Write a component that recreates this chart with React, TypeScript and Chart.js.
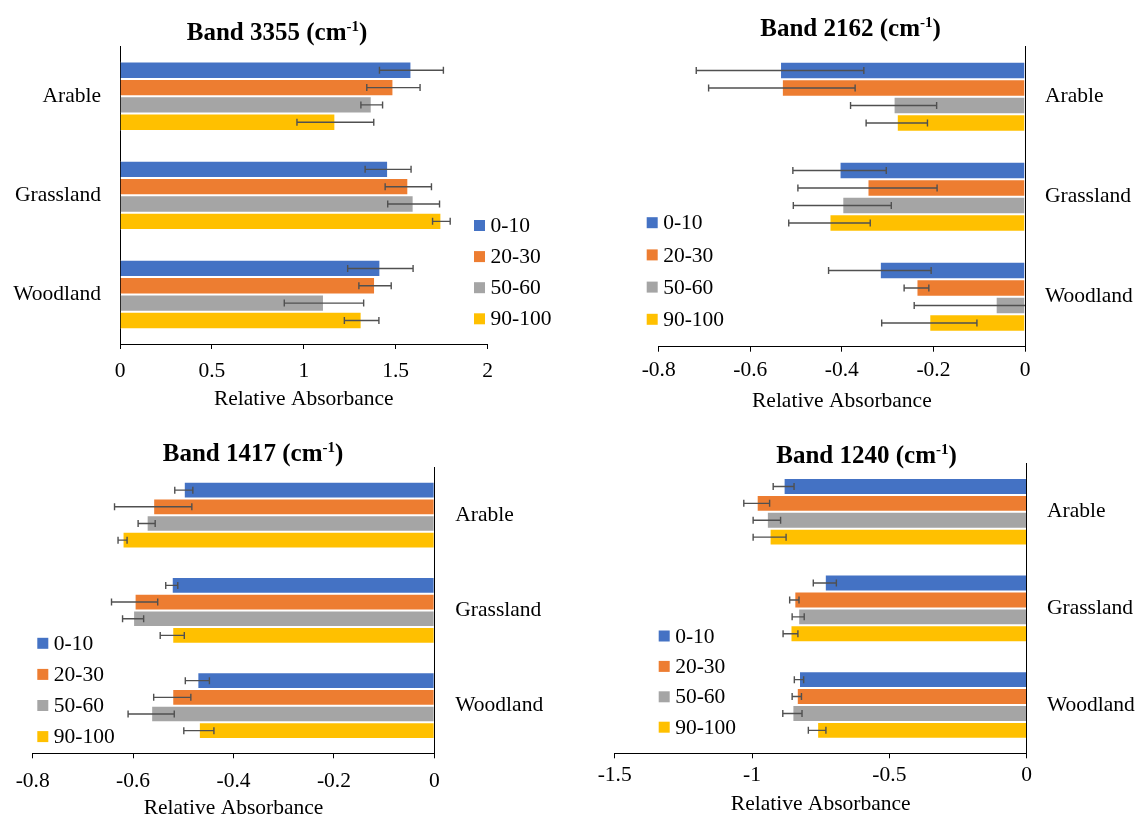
import React, { useEffect, useRef } from "react";
import { Chart, registerables } from "chart.js";

Chart.register(...registerables);

// ---------- data ----------
const categories = ["Arable", "Grassland", "Woodland"];
const depthLabels = ["0-10", "20-30", "50-60", "90-100"];
const depthColors = ["#4472C4", "#ED7D31", "#A5A5A5", "#FFC000"];

// rows = depth (0-10, 20-30, 50-60, 90-100); columns = Arable, Grassland, Woodland
const band3355Mean = [
  [1.586, 1.459, 1.417],
  [1.488, 1.569, 1.388],
  [1.37, 1.598, 1.11],
  [1.172, 1.749, 1.315],
];
const band3355Err = [
  [0.174, 0.125, 0.178],
  [0.145, 0.126, 0.088],
  [0.059, 0.141, 0.216],
  [0.209, 0.048, 0.094],
];

const band2162Mean = [
  [-0.535, -0.405, -0.317],
  [-0.531, -0.344, -0.237],
  [-0.287, -0.399, -0.064],
  [-0.28, -0.427, -0.209],
];
const band2162Err = [
  [0.183, 0.102, 0.112],
  [0.16, 0.152, 0.027],
  [0.094, 0.107, 0.178],
  [0.067, 0.089, 0.104],
];

const band1417Mean = [
  [-0.499, -0.523, -0.472],
  [-0.56, -0.597, -0.522],
  [-0.573, -0.6, -0.564],
  [-0.621, -0.522, -0.469],
];
const band1417Err = [
  [0.018, 0.012, 0.024],
  [0.077, 0.046, 0.037],
  [0.017, 0.021, 0.046],
  [0.009, 0.024, 0.03],
];

const band1240Mean = [
  [-0.885, -0.735, -0.829],
  [-0.983, -0.846, -0.837],
  [-0.946, -0.832, -0.853],
  [-0.936, -0.86, -0.763],
];
const band1240Err = [
  [0.038, 0.042, 0.017],
  [0.047, 0.017, 0.017],
  [0.05, 0.022, 0.035],
  [0.06, 0.027, 0.032],
];

// x-axis ranges: [min, max, step]
const band3355Axis = [0, 2, 0.5];
const band2162Axis = [-0.8, 0, 0.2];
const band1417Axis = [-0.8, 0, 0.2];
const band1240Axis = [-1.5, 0, 0.5];

const bandNames = ["Band 3355", "Band 2162", "Band 1417", "Band 1240"];
const axisTitle = "Relative Absorbance";

// ---------- layout / style ----------
const FONT = "'Liberation Serif', 'Times New Roman', serif";
const FS = 21.5;
Chart.defaults.font.family = FONT;

type PanelCfg = {
  name: string;
  mean: number[][];
  err: number[][];
  axis: number[];
  x: number; y: number; w: number; h: number;
  pad: { left: number; right: number; top: number; bottom: number };
  yPos: "left" | "right";
  yWidth: number;
  yPad: number;
  xHeight: number;
  tickPad: number;
  titlePb: number;
  titleCx: number;
  titleBase: number;
  legX: number;
  legY: number;
  legDy: number;
};

const panels: PanelCfg[] = [
  {
    name: bandNames[0], mean: band3355Mean, err: band3355Err, axis: band3355Axis,
    x: 0, y: 0, w: 570, h: 420,
    pad: { left: 0, right: 82.5, top: 46.7, bottom: 0 },
    yPos: "left", yWidth: 120, yPad: 19, xHeight: 76, tickPad: 9.4, titlePb: 7.4,
    titleCx: 277, titleBase: 39.5, legX: 474, legY: 225.5, legDy: 31.1,
  },
  {
    name: bandNames[1], mean: band2162Mean, err: band2162Err, axis: band2162Axis,
    x: 570, y: 0, w: 569, h: 420,
    pad: { left: 88.7, right: 0, top: 46.7, bottom: 0 },
    yPos: "right", yWidth: 114, yPad: 20, xHeight: 73.3, tickPad: 5.7, titlePb: 5.4,
    titleCx: 280.5, titleBase: 35.5, legX: 76.7, legY: 222.7, legDy: 32.2,
  },
  {
    name: bandNames[2], mean: band1417Mean, err: band1417Err, axis: band1417Axis,
    x: 0, y: 420, w: 570, h: 402,
    pad: { left: 32.7, right: 0, top: 47.5, bottom: 0 },
    yPos: "right", yWidth: 135.7, yPad: 21, xHeight: 68.7, tickPad: 10, titlePb: 1.1,
    titleCx: 253, titleBase: 41, legX: 37.3, legY: 223.3, legDy: 31.1,
  },
  {
    name: bandNames[3], mean: band1240Mean, err: band1240Err, axis: band1240Axis,
    x: 570, y: 420, w: 569, h: 402,
    pad: { left: 44.7, right: 0, top: 43.5, bottom: 0 },
    yPos: "right", yWidth: 112.3, yPad: 20.3, xHeight: 68.7, tickPad: 4.1, titlePb: 4.4,
    titleCx: 296.5, titleBase: 42.5, legX: 88.7, legY: 216, legDy: 30.4,
  },
];

// ---------- plugins ----------
const errorBarPlugin = {
  id: "errorBars",
  afterDatasetsDraw(chart: any) {
    const ctx = chart.ctx;
    const xs = chart.scales.x;
    const area = chart.chartArea;
    ctx.save();
    ctx.strokeStyle = "#505050";
    ctx.lineWidth = 1.4;
    chart.data.datasets.forEach((ds: any, i: number) => {
      const meta = chart.getDatasetMeta(i);
      meta.data.forEach((bar: any, j: number) => {
        const v = ds.data[j];
        const e = ds.errors[j];
        let x1 = xs.getPixelForValue(v - e);
        let x2 = xs.getPixelForValue(v + e);
        const y = bar.y;
        const c1 = x1 >= area.left;
        const c2 = x2 <= area.right;
        x1 = Math.max(area.left, x1);
        x2 = Math.min(area.right, x2);
        ctx.beginPath();
        ctx.moveTo(x1, y);
        ctx.lineTo(x2, y);
        if (c1) { ctx.moveTo(x1, y - 3.5); ctx.lineTo(x1, y + 3.5); }
        if (c2) { ctx.moveTo(x2, y - 3.5); ctx.lineTo(x2, y + 3.5); }
        ctx.stroke();
      });
    });
    ctx.restore();
  },
};

const legendPlugin = {
  id: "sideLegend",
  afterDraw(chart: any, _args: any, opts: any) {
    const ctx = chart.ctx;
    ctx.save();
    ctx.font = `${FS}px ${FONT}`;
    ctx.textBaseline = "middle";
    ctx.textAlign = "left";
    chart.data.datasets.forEach((ds: any, i: number) => {
      const cy = opts.y + i * opts.dy;
      ctx.fillStyle = ds.backgroundColor;
      ctx.fillRect(opts.x, cy - 5.5, 11, 11);
      ctx.fillStyle = "#000";
      ctx.fillText(ds.label, opts.x + 16.5, cy + 1);
    });
    ctx.restore();
  },
};

const titlePlugin = {
  id: "supTitle",
  afterDraw(chart: any, _args: any, opts: any) {
    const ctx = chart.ctx;
    ctx.save();
    ctx.fillStyle = "#000";
    ctx.textBaseline = "alphabetic";
    ctx.textAlign = "left";
    const main = `${opts.text} (cm`;
    const sup = "-1";
    const end = ")";
    const big = `bold 25px ${FONT}`;
    const small = `bold 15px ${FONT}`;
    ctx.font = big;
    const w1 = ctx.measureText(main).width;
    const w3 = ctx.measureText(end).width;
    ctx.font = small;
    const w2 = ctx.measureText(sup).width;
    let x = opts.cx - (w1 + w2 + w3) / 2;
    ctx.font = big;
    ctx.fillText(main, x, opts.base);
    x += w1;
    ctx.font = small;
    ctx.fillText(sup, x, opts.base - 9);
    x += w2;
    ctx.font = big;
    ctx.fillText(end, x, opts.base);
    ctx.restore();
  },
};

function makeChart(canvas: HTMLCanvasElement, p: PanelCfg) {
  const [min, max, step] = p.axis;
  return new Chart(canvas, {
    type: "bar",
    data: {
      labels: categories,
      datasets: depthLabels.map((d, i) => ({
        label: d,
        data: p.mean[i],
        errors: p.err[i],
        backgroundColor: depthColors[i],
        borderColor: "rgba(255,255,255,0.9)",
        borderWidth: 1,
        categoryPercentage: 0.7,
        barPercentage: 1,
      })) as any,
    },
    options: {
      indexAxis: "y",
      animation: false,
      responsive: false,
      maintainAspectRatio: false,
      layout: { padding: p.pad },
      plugins: {
        legend: { display: false },
        tooltip: { enabled: false },
        title: { display: false },
        errorBars: {},
        sideLegend: { x: p.legX, y: p.legY, dy: p.legDy },
        supTitle: { text: p.name, cx: p.titleCx, base: p.titleBase },
      } as any,
      scales: {
        x: {
          type: "linear",
          min,
          max,
          ticks: {
            stepSize: step,
            color: "#000",
            font: { size: FS, family: FONT },
            padding: p.tickPad,
            maxRotation: 0,
            callback: (v: any) => String(Number(Number(v).toFixed(2))),
          },
          grid: {
            display: true,
            drawOnChartArea: false,
            drawTicks: true,
            tickLength: 5,
            color: "#000",
            lineWidth: 1,
          },
          border: { display: true, color: "#000", width: 1 },
          title: {
            display: true,
            text: axisTitle,
            color: "#000",
            font: { size: FS, family: FONT },
            padding: { top: 0, bottom: p.titlePb },
          },
          afterFit: (s: any) => { s.height = p.xHeight; },
        },
        y: {
          type: "category",
          position: p.yPos,
          ticks: {
            color: "#000",
            font: { size: FS, family: FONT },
            padding: p.yPad,
          },
          grid: { display: false, drawTicks: false },
          border: { display: true, color: "#000", width: 1 },
          afterFit: (s: any) => { s.width = p.yWidth; },
        },
      },
    } as any,
    plugins: [errorBarPlugin, legendPlugin, titlePlugin],
  });
}

function Panel({ cfg }: { cfg: PanelCfg }) {
  const ref = useRef<HTMLCanvasElement>(null);
  useEffect(() => {
    const chart = makeChart(ref.current as HTMLCanvasElement, cfg);
    return () => chart.destroy();
  }, [cfg]);
  return (
    <canvas
      ref={ref}
      width={cfg.w}
      height={cfg.h}
      style={{ position: "absolute", left: cfg.x, top: cfg.y, width: cfg.w, height: cfg.h }}
    />
  );
}

export default function App() {
  return (
    <div
      style={{
        position: "fixed",
        left: 0,
        top: 0,
        width: 1139,
        height: 817,
        overflow: "hidden",
        background: "#fff",
      }}
    >
      {panels.map((p) => (
        <Panel key={p.name} cfg={p} />
      ))}
    </div>
  );
}
